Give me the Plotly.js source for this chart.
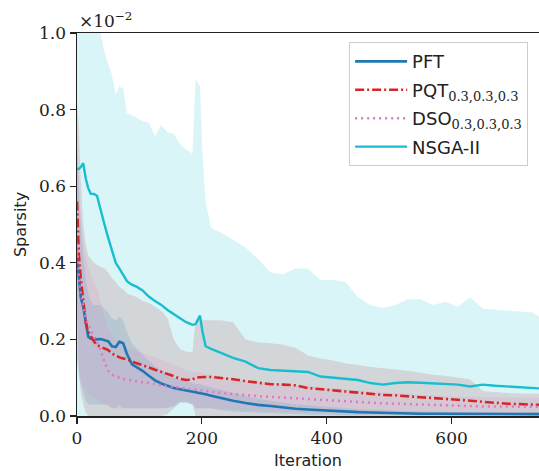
<!DOCTYPE html>
<html>
<head>
<meta charset="utf-8">
<script src="https://cdn.plot.ly/plotly-3.0.1.min.js"></script>
<style>
  html, body { margin: 0; padding: 0; background: #fff; }
  #chart { width: 539px; height: 471px; }
</style>
</head>
<body>
<div id="chart"></div>
<script>
// Iteration grid
const iters = [0, 3, 6, 10, 14, 18, 22, 27, 32, 38,
  44, 50, 56, 62, 68, 74, 80, 88, 96, 105,
  115, 125, 135, 145, 155, 165, 175, 185, 190, 197,
  201, 206, 215, 230, 250, 270, 290, 310, 330, 350,
  370, 390, 410, 430, 450, 470, 490, 510, 530, 550,
  570, 590, 610, 630, 650, 670, 690, 710, 730, 740];

// Mean sparsity (x 1e-2)
const pft = [0.415, 0.35, 0.31, 0.285, 0.24, 0.207, 0.202, 0.2, 0.2, 0.201,
  0.198, 0.195, 0.182, 0.18, 0.194, 0.19, 0.162, 0.135, 0.127, 0.118,
  0.105, 0.093, 0.085, 0.078, 0.073, 0.07, 0.067, 0.064, 0.062, 0.061,
  0.06, 0.057, 0.053, 0.047, 0.04, 0.034, 0.029, 0.026, 0.022, 0.019,
  0.017, 0.015, 0.013, 0.011, 0.01, 0.009, 0.008, 0.007, 0.007, 0.006,
  0.006, 0.006, 0.005, 0.005, 0.005, 0.005, 0.005, 0.005, 0.005, 0.005];

const pqt = [0.56, 0.42, 0.36, 0.3, 0.245, 0.22, 0.207, 0.195, 0.185, 0.18,
  0.177, 0.172, 0.163, 0.157, 0.153, 0.15, 0.148, 0.142, 0.137, 0.132,
  0.127, 0.121, 0.116, 0.111, 0.104, 0.097, 0.094, 0.095, 0.1, 0.101,
  0.102, 0.102, 0.102, 0.1, 0.096, 0.091, 0.087, 0.083, 0.082, 0.08,
  0.073, 0.07, 0.067, 0.064, 0.061, 0.058, 0.055, 0.054, 0.051, 0.049,
  0.047, 0.045, 0.043, 0.04, 0.037, 0.034, 0.032, 0.031, 0.029, 0.029];

const dso = [0.45, 0.36, 0.32, 0.285, 0.255, 0.238, 0.225, 0.21, 0.195, 0.172,
  0.14, 0.118, 0.108, 0.103, 0.1, 0.097, 0.095, 0.093, 0.09, 0.088,
  0.086, 0.083, 0.081, 0.078, 0.076, 0.073, 0.071, 0.07, 0.069, 0.068,
  0.068, 0.066, 0.064, 0.06, 0.057, 0.055, 0.052, 0.05, 0.048, 0.046,
  0.044, 0.042, 0.04, 0.038, 0.036, 0.035, 0.033, 0.032, 0.031, 0.03,
  0.028, 0.027, 0.026, 0.026, 0.025, 0.025, 0.025, 0.024, 0.024, 0.024];

const nsga = [0.645, 0.645, 0.65, 0.66, 0.62, 0.595, 0.58, 0.58, 0.575, 0.535,
  0.5, 0.465, 0.43, 0.4, 0.385, 0.37, 0.352, 0.343, 0.337, 0.328,
  0.312, 0.3, 0.29, 0.277, 0.265, 0.255, 0.245, 0.238, 0.24, 0.262,
  0.22, 0.182, 0.175, 0.165, 0.152, 0.142, 0.125, 0.12, 0.118, 0.117,
  0.115, 0.103, 0.1, 0.097, 0.094, 0.086, 0.082, 0.086, 0.088, 0.087,
  0.085, 0.083, 0.082, 0.077, 0.082, 0.079, 0.077, 0.075, 0.073, 0.072];

// Spread bands (upper / lower)
const nsgaUpper = [1.2, 1.2, 1.2, 1.2, 1.2, 1.15, 1.12, 1.08, 1.04, 1.0,
  0.95, 0.92, 0.89, 0.84, 0.86, 0.855, 0.79, 0.785, 0.778, 0.77,
  0.765, 0.73, 0.76, 0.74, 0.737, 0.71, 0.695, 0.685, 0.88, 0.86,
  0.68, 0.56, 0.49, 0.48, 0.46, 0.44, 0.41, 0.375, 0.37, 0.385,
  0.385, 0.355, 0.355, 0.35, 0.31, 0.29, 0.282, 0.29, 0.305, 0.305,
  0.29, 0.298, 0.285, 0.31, 0.28, 0.277, 0.275, 0.273, 0.27, 0.26];
const nsgaLower = [0, 0, 0, 0, 0, 0, 0, 0, 0, 0,
  0, 0, 0, 0, 0, 0, 0, 0, 0, 0,
  0, 0, 0, 0, 0, 0, 0, 0, 0, 0,
  0, 0, 0, 0, 0, 0, 0, 0, 0, 0,
  0, 0, 0, 0, 0, 0, 0, 0, 0, 0,
  0, 0, 0, 0, 0, 0, 0, 0, 0, 0];

const pqtUpper = [0.82, 0.75, 0.62, 0.5, 0.45, 0.42, 0.41, 0.4, 0.395, 0.39,
  0.385, 0.375, 0.36, 0.35, 0.337, 0.33, 0.32, 0.315, 0.31, 0.3,
  0.295, 0.285, 0.275, 0.255, 0.2, 0.175, 0.168, 0.167, 0.25, 0.25,
  0.25, 0.25, 0.25, 0.25, 0.245, 0.2, 0.192, 0.19, 0.186, 0.178,
  0.158, 0.15, 0.145, 0.138, 0.133, 0.128, 0.125, 0.122, 0.118, 0.113,
  0.108, 0.105, 0.1, 0.095, 0.065, 0.062, 0.06, 0.059, 0.058, 0.058];
const pqtLower = [0.3, 0.12, 0.06, 0.03, 0.01, 0, 0, 0, 0, 0,
  0, 0, 0, 0, 0, 0, 0, 0, 0, 0,
  0, 0, 0, 0.005, 0.02, 0.035, 0.035, 0.03, 0, 0,
  0, 0, 0, 0, 0, 0, 0, 0, 0, 0,
  0, 0, 0, 0, 0, 0, 0, 0, 0, 0,
  0, 0, 0, 0, 0, 0, 0, 0, 0, 0];

const pftUpper = [0.7, 0.6, 0.5, 0.42, 0.36, 0.32, 0.3, 0.29, 0.29, 0.29,
  0.28, 0.27, 0.255, 0.25, 0.26, 0.25, 0.22, 0.19, 0.175, 0.16,
  0.145, 0.13, 0.12, 0.11, 0.1, 0.095, 0.09, 0.087, 0.084, 0.083,
  0.082, 0.079, 0.075, 0.068, 0.06, 0.052, 0.045, 0.04, 0.035, 0.031,
  0.028, 0.025, 0.022, 0.02, 0.018, 0.016, 0.015, 0.014, 0.013, 0.012,
  0.012, 0.011, 0.011, 0.01, 0.01, 0.01, 0.01, 0.01, 0.01, 0.01];
const pftLower = [0.15, 0.1, 0.08, 0.06, 0.04, 0.03, 0.03, 0.03, 0.03, 0.03,
  0.03, 0.03, 0.02, 0.02, 0.03, 0.02, 0.02, 0.02, 0.02, 0.02,
  0.02, 0.02, 0.02, 0.02, 0.025, 0.035, 0.035, 0.03, 0.02, 0.02,
  0.02, 0.02, 0.02, 0.015, 0.012, 0.01, 0.008, 0.007, 0.006, 0.005,
  0.004, 0.003, 0.003, 0.002, 0.002, 0.002, 0.002, 0.001, 0.001, 0.001,
  0.001, 0.001, 0.001, 0.001, 0.001, 0.001, 0.001, 0.001, 0.001, 0.001];

const dsoUpper = [0.75, 0.6, 0.52, 0.46, 0.42, 0.39, 0.37, 0.35, 0.33, 0.3,
  0.26, 0.23, 0.21, 0.2, 0.19, 0.185, 0.18, 0.175, 0.17, 0.165,
  0.16, 0.155, 0.148, 0.14, 0.133, 0.126, 0.12, 0.117, 0.115, 0.114,
  0.113, 0.11, 0.107, 0.102, 0.097, 0.093, 0.09, 0.087, 0.084, 0.081,
  0.078, 0.075, 0.072, 0.069, 0.066, 0.064, 0.062, 0.06, 0.058, 0.056,
  0.054, 0.052, 0.05, 0.05, 0.049, 0.049, 0.048, 0.048, 0.047, 0.047];
const dsoLower = [0.15, 0.12, 0.1, 0.08, 0.07, 0.06, 0.05, 0.045, 0.04, 0.035,
  0.03, 0.025, 0.02, 0.02, 0.02, 0.02, 0.02, 0.02, 0.02, 0.02,
  0.02, 0.02, 0.02, 0.025, 0.03, 0.04, 0.04, 0.035, 0.02, 0.02,
  0.02, 0.02, 0.02, 0.018, 0.016, 0.015, 0.014, 0.013, 0.012, 0.011,
  0.01, 0.009, 0.009, 0.008, 0.008, 0.007, 0.007, 0.006, 0.006, 0.006,
  0.005, 0.005, 0.005, 0.005, 0.005, 0.005, 0.005, 0.005, 0.005, 0.005];

const SERIF = 'DejaVu Serif, serif';
const SANS = 'DejaVu Sans, sans-serif';
const sub = s => '<sub><span style="font-family:DejaVu Serif;font-size:13px">' + s + '</span></sub>';

const names = ['PFT', 'PQT' + sub('0.3,0.3,0.3'), 'DSO' + sub('0.3,0.3,0.3'), 'NSGA-II'];
const colors = ['#1f77b4', '#d62728', '#e377c2', '#17becf'];
const fills = ['rgba(31,119,180,0.15)', 'rgba(185,90,98,0.2)', 'rgba(227,119,194,0.15)', 'rgba(23,190,207,0.16)'];
const means = [pft, pqt, dso, nsga];
const uppers = [pftUpper, pqtUpper, dsoUpper, nsgaUpper];
const lowers = [pftLower, pqtLower, dsoLower, nsgaLower];
const dashes = ['solid', '9px,3px,2px,3px', '2px,4px', 'solid'];
const widths = [2.6, 2.6, 2.6, 2.4];

const bandX = iters.concat(iters.slice().reverse());
const traces = [];
// bands: NSGA first (back), then PQT, PFT, DSO
[3, 1, 0, 2].forEach(i => {
  traces.push({
    x: bandX,
    y: uppers[i].concat(lowers[i].slice().reverse()),
    type: 'scatter', mode: 'lines', fill: 'toself',
    fillcolor: fills[i], line: {width: 0, color: 'rgba(0,0,0,0)'},
    hoverinfo: 'skip', showlegend: false
  });
});
[0, 1, 2, 3].forEach(i => {
  traces.push({
    x: iters, y: means[i], type: 'scatter', mode: 'lines',
    name: names[i], legendgroup: 'g' + i,
    line: {color: colors[i], width: widths[i], dash: dashes[i]}
  });
});

const layout = {
  width: 539, height: 471,
  margin: {l: 77, r: 0, t: 33, b: 55},
  paper_bgcolor: '#fff', plot_bgcolor: '#fff',
  showlegend: true,
  legend: {
    x: 0.589, y: 0.976, xanchor: 'left', yanchor: 'top',
    bgcolor: 'rgba(255,255,255,0.85)', bordercolor: '#cccccc', borderwidth: 1,
    font: {family: SANS, size: 18, color: '#222'},
    traceorder: 'grouped', tracegroupgap: 2, itemwidth: 52
  },
  xaxis: {
    range: [0, 740], showgrid: false, zeroline: false,
    showline: true, linecolor: '#222', linewidth: 1.5, mirror: true,
    ticks: 'outside', ticklen: 6, tickwidth: 1.2, tickcolor: '#222',
    tickvals: [0, 200, 400, 600],
    tickfont: {family: SERIF, size: 17, color: '#222'},
    title: {text: 'Iteration', font: {family: SANS, size: 16, color: '#222'}, standoff: 8}
  },
  yaxis: {
    range: [0, 1.0], showgrid: false, zeroline: false,
    showline: true, linecolor: '#222', linewidth: 1.5,
    ticks: 'outside', ticklen: 6, tickwidth: 1.2, tickcolor: '#222',
    tickvals: [0, 0.2, 0.4, 0.6, 0.8, 1.0], tickformat: '.1f',
    tickfont: {family: SERIF, size: 17, color: '#222'},
    title: {text: 'Sparsity', font: {family: SANS, size: 16, color: '#222'}, standoff: 8}
  },
  annotations: [{
    xref: 'paper', yref: 'paper', x: 0, y: 1, xanchor: 'left', yanchor: 'bottom',
    text: '×10<sup>−2</sup>', showarrow: false, yshift: 0,
    font: {family: SERIF, size: 17, color: '#222'}
  }]
};

Plotly.newPlot('chart', traces, layout, {displayModeBar: false, staticPlot: true});
</script>
</body>
</html>
